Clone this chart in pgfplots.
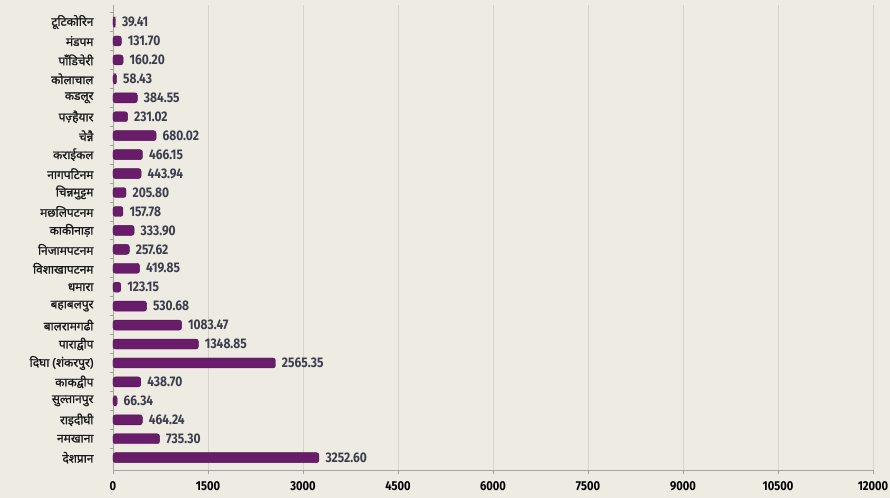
\documentclass[border=0pt]{standalone}
\usepackage{pgfplots}
\pgfplotsset{compat=1.18}
\usepackage{fontspec}
\setmainfont{Fira Sans}
\newfontfamily\numfont[FakeStretch=0.86]{Fira Sans}
\newfontfamily\hindi[Script=Devanagari, FakeBold=1.3]{Noto Sans}

\definecolor{bg}{RGB}{237,235,226}
\definecolor{barc}{RGB}{104,28,106}
\definecolor{valc}{RGB}{62,62,78}
\definecolor{gridc}{RGB}{214,211,202}
\definecolor{axc}{RGB}{165,165,160}

\begin{document}
\begin{tikzpicture}
\path[use as bounding box, fill=bg] (-113bp,-28bp) rectangle (777bp,470bp);
\begin{axis}[
  scale only axis, width=760bp, height=465bp,
  xmin=0, xmax=12000, ymin=-0.65, ymax=23.9,
  xbar, bar width=10bp,
  axis lines*=left, axis line style={axc, line width=0.8pt},
  xtick={0,1500,...,12000}, xmajorgrids, grid style={gridc, line width=0.6pt},
  tick align=outside, major tick length=4bp,
  x tick style={axc, line width=0.8pt},
  x tick label style={font=\numfont\bfseries\fontsize{13}{14}\selectfont, black, yshift=-4bp},
  /pgf/number format/assume math mode=true,
  scaled x ticks=false,
  xticklabel={\pgfmathprintnumber[1000 sep={}]{\tick}},
  ytick={0,...,23}, y tick style={draw=none},
  yticklabels={देशप्रान, नमखाना, राइदीघी, सुल्तानपुर, काकद्वीप, दिघा (शंकरपुर), पाराद्वीप, बालरामगढी, बहाबलपुर, धमारा, विशाखापटनम, निजामपटनम, काकीनाड़ा, मछलिपटनम, चिन्नमुट्टम, नागपटिनम, कराईकल, चेन्नै, पज़्हैयार, कडलूर, कोलाचाल, पॉंडिचेरी, मंडपम, टूटिकोरिन},
  y tick label style={font=\hindi\fontsize{12}{13}\selectfont, black!90, xshift=-12bp},
  extra y ticks={0.5,1.5,...,23.5}, extra y tick labels={},
  extra y tick style={y tick style={draw=axc, line width=0.8pt}, major tick length=3bp, grid=none},
  nodes near coords={\pgfmathprintnumber[fixed, fixed zerofill, precision=2, 1000 sep={}]{\pgfplotspointmeta}},
  point meta=x,
  every node near coord/.append style={font=\numfont\bfseries\fontsize{14}{15}\selectfont, text=valc, anchor=west, xshift=3bp},
]
\addplot[fill=barc, draw=barc!75!black, rounded corners=2.5bp] coordinates {
(3252.60,0) (735.30,1) (464.24,2) (66.34,3) (438.70,4) (2565.35,5)
(1348.85,6) (1083.47,7) (530.68,8) (123.15,9) (419.85,10) (257.62,11)
(333.90,12) (157.78,13) (205.80,14) (443.94,15) (466.15,16) (680.02,17)
(231.02,18) (384.55,19) (58.43,20) (160.20,21) (131.70,22) (39.41,23)
};
\end{axis}
\end{tikzpicture}
\end{document}
